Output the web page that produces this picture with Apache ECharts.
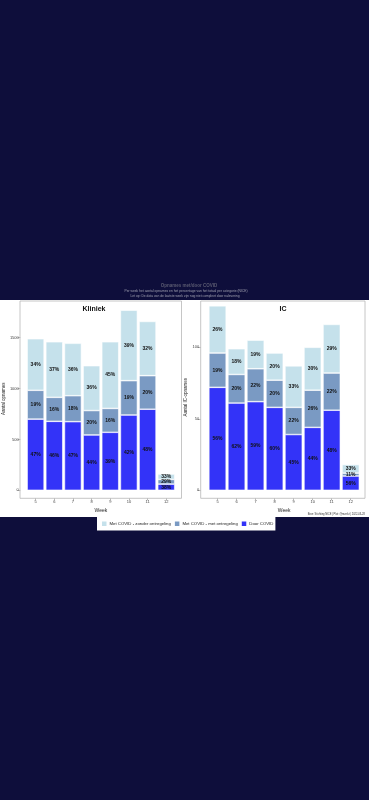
<!DOCTYPE html>
<html>
<head>
<meta charset="utf-8">
<script src="https://cdn.jsdelivr.net/npm/echarts@6/dist/echarts.min.js"></script>
<style>
html,body{margin:0;padding:0;background:#0e0e3b;}
#chart{width:369px;height:800px;}
</style>
</head>
<body>
<div id="chart"></div>
<script>
// ---- data ----
const weeks = ['5','6','7','8','9','10','11','12'];
const klinDoor   = [700, 678, 675, 544, 570, 740, 797, 61];
const klinMet    = [283, 236, 255, 240, 235, 338, 330, 46];
const klinZonder = [507, 546, 515, 441, 655, 692, 533, 53];
const icDoor     = [72, 61, 62, 58, 39, 44, 56, 10];
const icMet      = [24, 20, 23, 19, 19, 26, 26, 2];
const icZonder   = [33, 18, 20, 19, 29, 30, 34, 6];
const klinTicks = [0, 500, 1000, 1500];
const icTicks = [0, 50, 100];
const seriesNames = ['Met COVID - zonder ontregeling', 'Met COVID - met ontregeling', 'Door COVID'];

const colZonder = '#c5e1eb';
const colMet = '#7a9ac3';
const colDoor = '#3333f8';
const FONT = '"Liberation Sans", Arial, sans-serif';

const klinTot = weeks.map((w, i) => klinDoor[i] + klinMet[i] + klinZonder[i]);
const icTot = weeks.map((w, i) => icDoor[i] + icMet[i] + icZonder[i]);

function pctLabel(tot) {
  return {
    show: true, position: 'inside', fontSize: 5, fontWeight: 'bold',
    color: '#111', fontFamily: FONT,
    formatter: p => Math.round(p.value / tot[p.dataIndex] * 100) + '%'
  };
}
function mkSeries(name, data, color, idx, tot, stack) {
  return {
    type: 'bar', name: name, data: data, stack: stack,
    xAxisIndex: idx, yAxisIndex: idx, barWidth: '91%',
    itemStyle: { color: color, borderColor: '#ffffff', borderWidth: 0.6 },
    label: pctLabel(tot), emphasis: { disabled: true }
  };
}
function yAx(max, ticks, name, offset, gap) {
  return {
    type: 'value', min: 0, max: max, offset: offset,
    axisLine: { show: false },
    axisTick: { show: true, length: 3, lineStyle: { color: '#888', width: 0.6 }, customValues: ticks },
    axisLabel: { fontSize: 4, color: '#444', margin: 1.5, fontFamily: FONT, customValues: ticks, formatter: v => String(v) },
    splitLine: { show: false },
    name: name, nameLocation: 'middle', nameGap: gap, nameRotate: 90,
    nameTextStyle: { fontSize: 4.5, color: '#222', fontFamily: FONT }
  };
}
function xAx(idx) {
  return {
    type: 'category', data: weeks, gridIndex: idx, offset: 8,
    axisLine: { show: false, onZero: false },
    axisTick: { show: true, alignWithLabel: true, length: 2, lineStyle: { color: '#888', width: 0.6 } },
    axisLabel: { fontSize: 4, color: '#444', margin: 2, fontFamily: FONT },
    name: 'Week', nameLocation: 'middle', nameGap: 10,
    nameTextStyle: { fontSize: 5, color: '#222', fontFamily: FONT }
  };
}

const chart = echarts.init(document.getElementById('chart'), null, { renderer: 'canvas' });
chart.setOption({
  backgroundColor: '#0e0e3b',
  animation: false,
  textStyle: { fontFamily: FONT },
  grid: [
    { left: 25.95, width: 149.6, top: 307.2, height: 183.1 },
    { left: 208, width: 152.2, top: 304.4, height: 185.9 }
  ],
  xAxis: [xAx(0), xAx(1)],
  yAxis: [
    Object.assign(yAx(1800, klinTicks, 'Aantal opnames', 6, 13), { gridIndex: 0 }),
    Object.assign(yAx(130, icTicks, 'Aantal IC-opnames', 7.3, 11), { gridIndex: 1 })
  ],
  legend: {
    data: seriesNames, left: 97, top: 517,
    backgroundColor: '#ffffff', padding: [2.5, 2, 2.5, 3],
    icon: 'rect', itemWidth: 6.5, itemHeight: 6.5, itemGap: 2,
    textStyle: { fontSize: 4.3, color: '#222', fontFamily: FONT, padding: [0, 0, 0, -3] },
    selectedMode: false
  },
  graphic: [
    { type: 'rect', z: -10, shape: { x: 0, y: 300, width: 369, height: 217 }, style: { fill: '#ffffff' } },
    { type: 'rect', z: 100, shape: { x: 20, y: 301, width: 161.5, height: 197.3 }, style: { fill: 'none', stroke: '#b8b8b8', lineWidth: 0.8 } },
    { type: 'rect', z: 100, shape: { x: 200.7, y: 301, width: 164.3, height: 197.3 }, style: { fill: 'none', stroke: '#b8b8b8', lineWidth: 0.8 } },
    { type: 'text', z: 100, x: 94, y: 309, style: { text: 'Kliniek', fill: '#111', align: 'center', verticalAlign: 'middle', font: 'bold 7px ' + FONT } },
    { type: 'text', z: 100, x: 283, y: 309, style: { text: 'IC', fill: '#111', align: 'center', verticalAlign: 'middle', font: 'bold 7px ' + FONT } },
    { type: 'text', z: 100, x: 189, y: 286, style: { text: 'Opnames met/door COVID', fill: '#5a5a70', align: 'center', verticalAlign: 'middle', font: 'bold 4.5px ' + FONT } },
    { type: 'text', z: 100, x: 186, y: 291, style: { text: 'Per week het aantal opnames en het percentage van het totaal per categorie (NICE)', fill: '#a0a0b0', align: 'center', verticalAlign: 'middle', font: '3.3px ' + FONT } },
    { type: 'text', z: 100, x: 185, y: 296, style: { text: 'Let op: De data van de laatste week zijn nog niet compleet door nalevering', fill: '#a0a0b0', align: 'center', verticalAlign: 'middle', font: '3.3px ' + FONT } },
    { type: 'text', z: 100, x: 365, y: 514, style: { text: 'Bron: Stichting NICE | Plot: @mzelst | 2022-03-28', fill: '#333', align: 'right', verticalAlign: 'middle', font: '2.6px ' + FONT } }
  ],
  series: [
    mkSeries(seriesNames[2], klinDoor, colDoor, 0, klinTot, 'k'),
    mkSeries(seriesNames[1], klinMet, colMet, 0, klinTot, 'k'),
    mkSeries(seriesNames[0], klinZonder, colZonder, 0, klinTot, 'k'),
    mkSeries(seriesNames[2], icDoor, colDoor, 1, icTot, 'i'),
    mkSeries(seriesNames[1], icMet, colMet, 1, icTot, 'i'),
    mkSeries(seriesNames[0], icZonder, colZonder, 1, icTot, 'i')
  ]
});
</script>
</body>
</html>
